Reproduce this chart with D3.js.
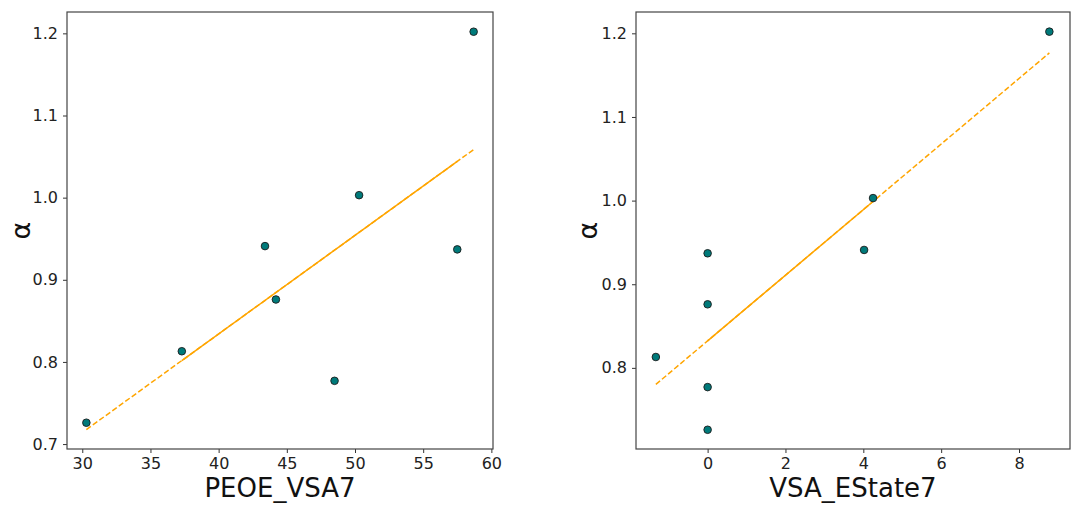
<!DOCTYPE html>
<html>
<head>
<meta charset="utf-8">
<script src="https://cdn.jsdelivr.net/npm/d3@7"></script>
<style>
  body { margin: 0; background: #fff; }
  svg { display: block; font-family: "DejaVu Sans", sans-serif; }
</style>
</head>
<body>
<svg id="chart" width="1071" height="509"></svg>
<script>
// values
const alpha      = [0.726, 0.813, 0.941, 0.876, 0.777, 1.003, 0.937, 1.202];
const peoeVsa7   = [30.3, 37.3, 43.4, 44.2, 48.5, 50.3, 57.5, 58.7];
const vsaEstate7 = [0, -1.33, 4.02, 0, 0, 4.25, 0, 8.78];

const leftXTicks  = [30, 35, 40, 45, 50, 55, 60];
const leftYTicks  = [0.7, 0.8, 0.9, 1.0, 1.1, 1.2];
const rightXTicks = [0, 2, 4, 6, 8];
const rightYTicks = [0.8, 0.9, 1.0, 1.1, 1.2];

const leftXLim  = [28.88, 60.12];
const leftYLim  = [0.694, 1.226];
const rightXLim = [-1.84, 9.31];
const rightYLim = [0.703, 1.2255];

const svg = d3.select("#chart");

// ordinary least squares fit
function fit(xs, ys) {
	const mx = d3.mean(xs), my = d3.mean(ys);
	let sxy = 0, sxx = 0;
	xs.forEach((x, i) => { sxy += (x - mx) * (ys[i] - my); sxx += (x - mx) * (x - mx); });
	const b = sxy / sxx;
	return x => my + b * (x - mx);
}

function drawPanel(p) {
	const x = d3.scaleLinear().domain(p.xlim).range([p.left, p.right]);
	const y = d3.scaleLinear().domain(p.ylim).range([p.bottom, p.top]);
	const g = svg.append("g");

	const xAxis = g.append("g")
		.attr("transform", `translate(0,${p.bottom})`)
		.call(d3.axisBottom(x).tickValues(p.xticks).tickSize(4).tickPadding(5).tickFormat(d3.format("d")));
	const yAxis = g.append("g")
		.attr("transform", `translate(${p.left},0)`)
		.call(d3.axisLeft(y).tickValues(p.yticks).tickSize(4).tickPadding(5).tickFormat(d3.format(".1f")));
	[xAxis, yAxis].forEach(a => {
		a.select(".domain").remove();
		a.selectAll(".tick line").attr("stroke", "#333");
		a.selectAll(".tick text").attr("fill", "#222").style("font-size", "16px")
			.style("font-family", "DejaVu Sans, sans-serif");
	});

	// regression line: dashed over full range, solid between 2nd min and 2nd max
	const f = fit(p.xs, alpha);
	const sorted = p.xs.slice().sort((a, b) => a - b);
	const line = d3.line().x(d => x(d)).y(d => y(f(d)));
	g.append("path")
		.attr("d", line([sorted[0], sorted[sorted.length - 1]]))
		.attr("fill", "none").attr("stroke", "#FFA500").attr("stroke-width", 1.5)
		.attr("stroke-dasharray", "5.5,2.5");
	g.append("path")
		.attr("d", line([sorted[1], sorted[sorted.length - 2]]))
		.attr("fill", "none").attr("stroke", "#FFA500").attr("stroke-width", 1.5);

	g.selectAll("circle")
		.data(p.xs)
		.enter().append("circle")
		.attr("cx", d => x(d))
		.attr("cy", (d, i) => y(alpha[i]))
		.attr("r", 3.8)
		.attr("fill", "#007a7a")
		.attr("stroke", "#1b1b1b")
		.attr("stroke-width", 0.9);

	g.append("rect")
		.attr("x", p.left).attr("y", p.top)
		.attr("width", p.right - p.left).attr("height", p.bottom - p.top)
		.attr("fill", "none").attr("stroke", "#444").attr("stroke-width", 1.2);

	g.append("text")
		.attr("x", (p.left + p.right) / 2).attr("y", 497)
		.attr("text-anchor", "middle")
		.style("font-size", "26px").attr("fill", "#111")
		.text(p.xlabel);
	g.append("text")
		.attr("transform", `translate(${p.ylabelX},${(p.top + p.bottom) / 2}) rotate(-90)`)
		.attr("text-anchor", "middle")
		.style("font-size", "27px").attr("fill", "#111")
		.text("α");
}

drawPanel({
	xs: peoeVsa7, xlim: leftXLim, ylim: leftYLim, xticks: leftXTicks, yticks: leftYTicks,
	left: 67, right: 493, top: 12, bottom: 449, xlabel: "PEOE_VSA7", ylabelX: 30
});
drawPanel({
	xs: vsaEstate7, xlim: rightXLim, ylim: rightYLim, xticks: rightXTicks, yticks: rightYTicks,
	left: 636, right: 1070, top: 12, bottom: 449, xlabel: "VSA_EState7", ylabelX: 597
});
</script>
</body>
</html>
